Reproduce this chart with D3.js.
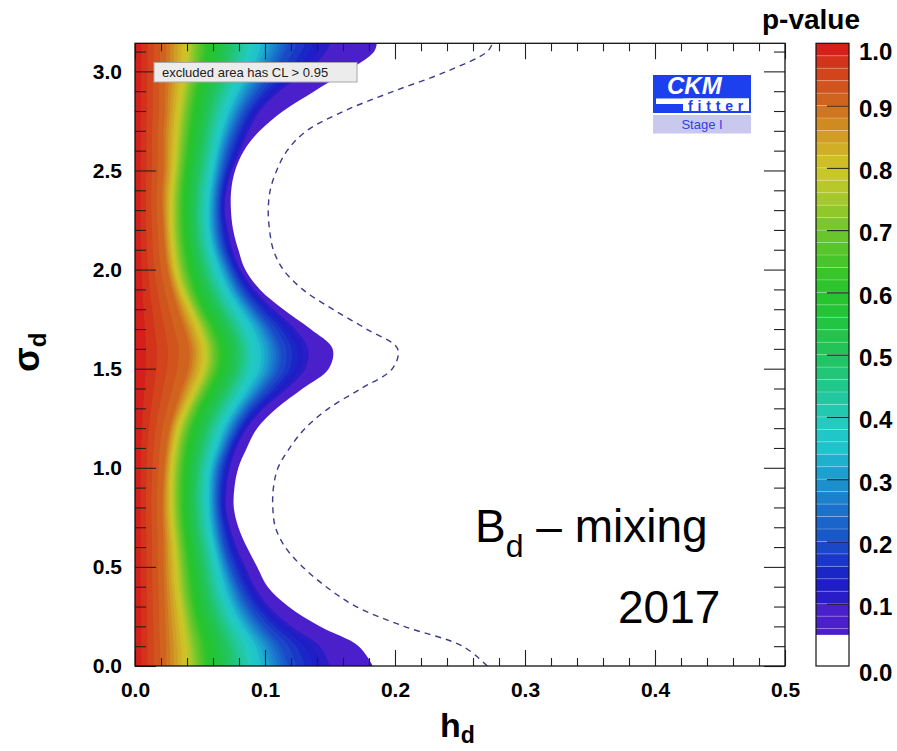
<!DOCTYPE html>
<html>
<head>
<meta charset="utf-8">
<script src="https://cdnjs.cloudflare.com/ajax/libs/d3/7.8.5/d3.min.js"></script>
<style>
	body { margin: 0; background: #fff; }
	svg { font-family: "Liberation Sans", Arial, Helvetica, sans-serif; }
</style>
</head>
<body>
<svg id="chart" width="897" height="751"></svg>
<script>
let sigma = [0, 0.1, 0.2, 0.3, 0.4, 0.5, 0.6, 0.7, 0.8, 0.9, 1.0, 1.1, 1.2, 1.3, 1.4, 1.5, 1.6,
	1.7, 1.8, 1.9, 2.0, 2.1, 2.2, 2.3, 2.4, 2.5, 2.6, 2.7, 2.8, 2.9, 3.0, 3.1, 3.1416];

// h_d position of the p-value contours, one value per sigma
let pLevels = [0.9, 0.8, 0.6, 0.4, 0.3, 0.2, 0.1, 0.05];
let h90 = [.024, .024, .0235, .023, .0225, .022, .022, .0215, .021, .0215, .0225, .024, .0265, .031, .036, .041, .042,
	.038, .033, .0285, .025, .023, .022, .021, .021, .022, .022, .022, .023, .023, .024, .024, .024];
let h80 = [.039, .038, .036, .034, .032, .031, .030, .0285, .0275, .0275, .028, .030, .033, .039, .046, .052, .053,
	.0485, .042, .0355, .031, .029, .0277, .0275, .028, .0295, .0305, .0315, .033, .035, .0375, .0385, .039];
let h60 = [.057, .055, .051, .047, .045, .043, .041, .039, .038, .038, .039, .041, .045, .051, .059, .066, .067,
	.062, .054, .0475, .043, .040, .0385, .038, .0385, .040, .042, .044, .046, .049, .053, .056, .057];
let h40 = [.087, .084, .076, .069, .064, .061, .058, .055, .0535, .0535, .055, .059, .064, .072, .081, .088, .089,
	.084, .0755, .067, .061, .0565, .054, .0535, .0545, .057, .060, .063, .067, .073, .081, .086, .087];
let h30 = [.104, .099, .088, .079, .073, .068, .064, .061, .0595, .0595, .061, .066, .072, .081, .092, .101, .102,
	.096, .0855, .0755, .0685, .063, .060, .0595, .0605, .063, .066, .0705, .0765, .084, .094, .102, .104];
let h20 = [.118, .112, .099, .088, .080, .074, .069, .066, .064, .064, .066, .071, .078, .088, .101, .111, .112,
	.105, .093, .082, .074, .068, .065, .064, .065, .068, .072, .0775, .0845, .0945, .1065, .1155, .118];
let h10 = [.150, .142, .120, .103, .092, .085, .078, .073, .070, .0705, .073, .078, .086, .099, .117, .131, .133,
	.123, .1065, .0915, .081, .075, .0715, .069, .0705, .0745, .081, .0875, .096, .111, .133, .147, .150];
let h05 = [.183, .172, .142, .118, .102, .094, .086, .0795, .076, .0765, .0795, .086, .094, .109, .129, .149, .152,
	.135, .114, .096, .0848, .0795, .0755, .0738, .074, .077, .0838, .096, .114, .138, .163, .184, .186];
// dashed contour
let hDash = [.271, .252, .207, .170, .147, .129, .1155, .108, .106, .1065, .110, .119, .131, .149, .174, .198, .202,
	.178, .152, .129, .114, .1064, .1035, .1025, .104, .109, .117, .132, .161, .199, .240, .271, .275];

// colour palette of the p-value scale
let palP = [0.05, 0.09, 0.10, 0.14, 0.20, 0.25, 0.30, 0.35, 0.38, 0.42, 0.50, 0.58, 0.62, 0.70, 0.76, 0.80, 0.85, 0.90, 0.95, 1.00];
let palColor = ["#4b1fcb", "#4a20cb", "#2c1dc6", "#1a1ec6", "#1a50c8", "#1b72cc", "#1c98ce", "#20c2cc", "#22cac6", "#22c8a8",
	"#22c45c", "#24c432", "#30c42a", "#70c62c", "#b0c82a", "#d0c628", "#d09e24", "#d06c20", "#d2441c", "#d4161a"];

let xTicks = [0, 0.1, 0.2, 0.3, 0.4, 0.5];
let yTicks = [0, 0.5, 1.0, 1.5, 2.0, 2.5, 3.0];
let zTicks = [0, 0.1, 0.2, 0.3, 0.4, 0.5, 0.6, 0.7, 0.8, 0.9, 1.0];

let L = 135, R = 785, T = 43.3, B = 666;
let svg = d3.select("#chart");

let x = d3.scaleLinear().domain([0, 0.5]).range([L, R]);
let y = d3.scaleLinear().domain([0, Math.PI]).range([B, T]);
let z = d3.scaleLinear().domain([0, 1]).range([B, T]);
let pal = d3.scaleLinear().domain(palP).range(palColor).interpolate(d3.interpolateRgb);

let levelP = [1.0].concat(pLevels);
let levelH = [sigma.map(() => 0), h90, h80, h60, h40, h30, h20, h10, h05];

// contour of an arbitrary p between two read contours (for the smooth shading)
function contourH(p, i) {
	let k = 0;
	while (k < levelP.length - 2 && p < levelP[k + 1]) k++;
	let t = (levelP[k] - p) / (levelP[k] - levelP[k + 1]);
	return d3.interpolateNumber(levelH[k][i], levelH[k + 1][i])(t);
}

let bandEdges = [0.05].concat(d3.range(0.06, 0.99, 0.02));
let bandTop = (i) => i < bandEdges.length - 1 ? bandEdges[i + 1] : 1.0;

svg.append("clipPath").attr("id", "plotclip")
	.append("rect").attr("x", L).attr("y", T).attr("width", R - L).attr("height", B - T);

let field = svg.append("g").attr("clip-path", "url(#plotclip)");
bandEdges.forEach((e, bi) => {
	let area = d3.area()
		.curve(d3.curveCatmullRom)
		.y((d, i) => y(sigma[i]))
		.x0(x(0))
		.x1((d, i) => x(contourH(e, i)));
	field.append("path")
		.attr("d", area(sigma))
		.attr("fill", pal((e + bandTop(bi)) / 2));
});

field.append("path")
	.attr("d", d3.line().curve(d3.curveCatmullRom)
		.x((d, i) => x(hDash[i]))
		.y((d, i) => y(sigma[i]))(sigma))
	.attr("fill", "none")
	.attr("stroke", "#3b3b8e")
	.attr("stroke-width", 1.4)
	.attr("stroke-dasharray", "6,5");

// axes, ticks inward on all sides
let xMinor = d3.range(0, 0.5001, 0.02).filter(v => Math.abs(v * 10 - Math.round(v * 10)) > 1e-6);
let yMinor = d3.range(0, 3.1001, 0.1).filter(v => Math.abs(v * 2 - Math.round(v * 2)) > 1e-6);

function styleAxis(g) {
	g.select(".domain").remove();
	g.selectAll(".tick line").attr("stroke", "#222").attr("stroke-width", 1.1);
	g.selectAll(".tick text").attr("fill", "#000").style("font-size", "21px").style("font-weight", "bold");
}

svg.append("g").attr("transform", `translate(0,${B})`)
	.call(d3.axisBottom(x).tickValues(xTicks).tickSize(-16).tickPadding(16).tickFormat(d3.format(".1f")))
	.call(styleAxis);
svg.append("g").attr("transform", `translate(0,${B})`)
	.call(d3.axisBottom(x).tickValues(xMinor).tickSize(-8).tickFormat(""))
	.call(styleAxis);
svg.append("g").attr("transform", `translate(0,${T})`)
	.call(d3.axisTop(x).tickValues(xTicks).tickSize(-16).tickFormat(""))
	.call(styleAxis);
svg.append("g").attr("transform", `translate(0,${T})`)
	.call(d3.axisTop(x).tickValues(xMinor).tickSize(-8).tickFormat(""))
	.call(styleAxis);
svg.append("g").attr("transform", `translate(${L},0)`)
	.call(d3.axisLeft(y).tickValues(yTicks).tickSize(-21).tickPadding(13).tickFormat(d3.format(".1f")))
	.call(styleAxis);
svg.append("g").attr("transform", `translate(${L},0)`)
	.call(d3.axisLeft(y).tickValues(yMinor).tickSize(-11).tickFormat(""))
	.call(styleAxis);
svg.append("g").attr("transform", `translate(${R},0)`)
	.call(d3.axisRight(y).tickValues(yTicks).tickSize(-21).tickFormat(""))
	.call(styleAxis);
svg.append("g").attr("transform", `translate(${R},0)`)
	.call(d3.axisRight(y).tickValues(yMinor).tickSize(-11).tickFormat(""))
	.call(styleAxis);

svg.append("rect")
	.attr("x", L).attr("y", T).attr("width", R - L).attr("height", B - T)
	.attr("fill", "none").attr("stroke", "#111").attr("stroke-width", 1.3);

// axis titles
svg.append("text")
	.attr("x", 440).attr("y", 737)
	.style("font-size", "34px").style("font-weight", "bold")
	.html(`h<tspan dy="6" style="font-size:23px">d</tspan>`);
svg.append("text")
	.attr("transform", "translate(39,372) rotate(-90)")
	.style("font-size", "36px").style("font-weight", "bold")
	.html(`σ<tspan dy="7" style="font-size:24px">d</tspan>`);

// legend box
svg.append("rect")
	.attr("x", 154).attr("y", 62.5).attr("width", 203).attr("height", 19.5)
	.attr("fill", "#ececec").attr("stroke", "#a8a8a8").attr("stroke-width", 1);
svg.append("text")
	.attr("x", 162).attr("y", 76.5)
	.style("font-size", "13px").attr("fill", "#222")
	.text("excluded area has CL > 0.95");

// CKMfitter logo
let logo = svg.append("g");
logo.append("rect").attr("x", 653).attr("y", 75).attr("width", 98).attr("height", 38).attr("fill", "#1d40ee");
logo.append("rect").attr("x", 656).attr("y", 98.5).attr("width", 93).attr("height", 5.5).attr("fill", "#fff");
logo.append("rect").attr("x", 683).attr("y", 98.5).attr("width", 66).attr("height", 12.5).attr("fill", "#fff");
logo.append("text").attr("x", 667).attr("y", 94)
	.style("font-size", "24px").style("font-weight", "bold").style("font-style", "italic")
	.attr("fill", "#fff").text("CKM");
logo.append("text").attr("x", 748).attr("y", 111).attr("text-anchor", "end")
	.style("font-size", "14px").style("font-weight", "bold").style("letter-spacing", "4.8px")
	.attr("fill", "#1d40ee").text("fitter");
logo.append("rect").attr("x", 653).attr("y", 115).attr("width", 98).attr("height", 18.5).attr("fill", "#c9c9ef");
logo.append("text").attr("x", 702).attr("y", 129).attr("text-anchor", "middle")
	.style("font-size", "13px").attr("fill", "#3340e0").text("Stage I");

// annotation
svg.append("text")
	.attr("x", 475).attr("y", 541.7)
	.style("font-size", "46px")
	.html(`B<tspan dy="15" style="font-size:32px">d</tspan><tspan dy="-15"> – mixing</tspan>`);
svg.append("text")
	.attr("x", 618).attr("y", 622.7)
	.style("font-size", "46px")
	.text("2017");

// colour bar
let cbL = 816, cbR = 849;
let cb = svg.append("g");
bandEdges.forEach((e, bi) => {
	cb.append("rect")
		.attr("x", cbL).attr("width", cbR - cbL)
		.attr("y", z(bandTop(bi))).attr("height", z(e) - z(bandTop(bi)))
		.attr("fill", pal((e + bandTop(bi)) / 2));
});
cb.selectAll("line.sep")
	.data(bandEdges.slice(1))
	.join("line")
	.attr("x1", cbL).attr("x2", cbR)
	.attr("y1", d => z(d)).attr("y2", d => z(d))
	.attr("stroke", "#fff").attr("stroke-opacity", 0.25).attr("stroke-width", 1);
svg.append("g").attr("transform", `translate(${cbR},0)`)
	.call(d3.axisRight(z).tickValues(zTicks).tickSize(-22).tickPadding(10).tickFormat(d3.format(".1f")))
	.call(g => {
		g.select(".domain").remove();
		g.selectAll(".tick line").attr("stroke", "#222").attr("stroke-width", 1.1)
			.filter(d => d === 0 || d === 1).remove();
		g.selectAll(".tick text").attr("fill", "#000").style("font-size", "24px").style("font-weight", "bold")
			.attr("dy", d => d === 1 ? "0.68em" : d === 0 ? "0.6em" : "0.45em");
	});
cb.append("rect")
	.attr("x", cbL).attr("y", T).attr("width", cbR - cbL).attr("height", B - T)
	.attr("fill", "none").attr("stroke", "#111").attr("stroke-width", 1.2);

svg.append("text")
	.attr("x", 762).attr("y", 29)
	.style("font-size", "28px").style("font-weight", "bold")
	.text("p-value");
</script>
</body>
</html>
